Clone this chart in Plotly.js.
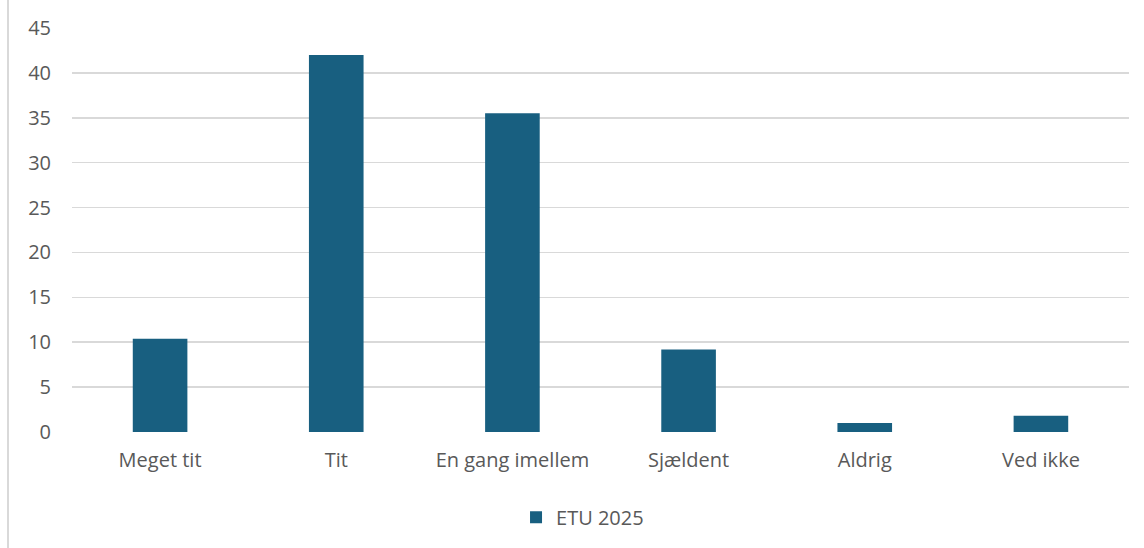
<!DOCTYPE html>
<html>
<head>
<meta charset="utf-8">
<script src="https://cdn.plot.ly/plotly-3.0.1.min.js"></script>
<style>
html,body{margin:0;padding:0;background:#fff;}
#wrap{position:absolute;left:0;top:0;width:1144px;height:548px;}
#edge{position:absolute;left:7px;top:0;width:2px;height:548px;background:#d9d9d9;}
#chart{position:absolute;left:0;top:0;width:1144px;height:548px;}
</style>
</head>
<body>
<div id="wrap"><div id="chart"></div><div id="edge"></div></div>
<script>
const categories = ["Meget tit", "Tit", "En gang imellem", "Sjældent", "Aldrig", "Ved ikke"];
const seriesName = "ETU 2025";
const values = [10.4, 42.0, 35.5, 9.2, 1.0, 1.8];
const yTicks = [0, 5, 10, 15, 20, 25, 30, 35, 40, 45];

const fontFam = "Open Sans, Noto Sans, sans-serif";
const textColor = "#595959";

Plotly.newPlot("chart", [{
  type: "bar",
  x: categories,
  y: values,
  name: seriesName,
  marker: {color: "#185F80"},
  showlegend: true,
  hoverinfo: "skip"
}], {
  width: 1144,
  height: 548,
  margin: {l: 72, r: 15, t: 28, b: 115},
  paper_bgcolor: "#ffffff",
  plot_bgcolor: "#ffffff",
  bargap: 0.69,
  font: {family: fontFam, size: 20, color: textColor},
  xaxis: {
    showgrid: false,
    showline: false,
    zeroline: false,
    ticks: "",
    ticklabelstandoff: 14,
    tickfont: {family: fontFam, size: 20, color: textColor},
    fixedrange: true
  },
  yaxis: {
    range: [0, 45],
    tickvals: yTicks,
    ticktext: yTicks.map(String),
    showgrid: true,
    gridcolor: "#d9d9d9",
    gridwidth: 1.5,
    zeroline: false,
    showline: false,
    ticks: "",
    ticklabelstandoff: 20,
    tickfont: {family: fontFam, size: 20, color: textColor},
    fixedrange: true
  },
  showlegend: true,
  legend: {
    orientation: "h",
    x: 0.483,
    xanchor: "center",
    y: -0.208,
    yanchor: "middle",
    font: {family: fontFam, size: 20, color: textColor},
    itemwidth: 30
  }
}, {displayModeBar: false, staticPlot: true});
</script>
</body>
</html>
